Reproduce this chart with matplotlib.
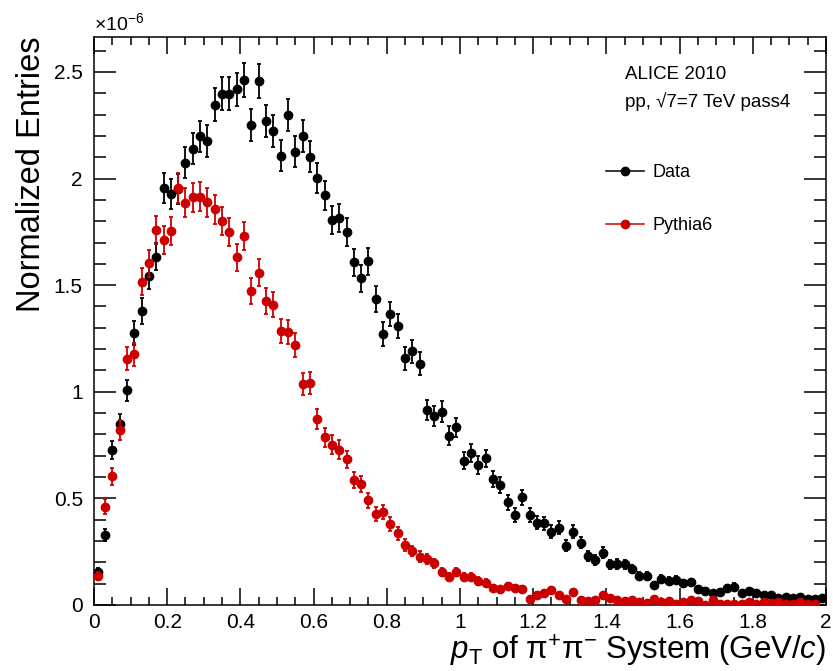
import numpy as np
import matplotlib.pyplot as plt
from matplotlib.ticker import MultipleLocator, FuncFormatter
from matplotlib.lines import Line2D

plt.rcParams['font.family'] = ['Liberation Sans', 'DejaVu Sans']
plt.rcParams['mathtext.fontset'] = 'custom'
plt.rcParams['mathtext.rm'] = 'Liberation Sans'
plt.rcParams['mathtext.it'] = 'Liberation Sans:italic'

# bin centres of the pT histogram (GeV/c), bin width 0.02
pt = np.arange(0.01, 2.0, 0.02)

# normalized entries, in units of 1e-6
data_y = [0.153, 0.328, 0.726, 0.850, 1.007, 1.274, 1.379, 1.545, 1.634, 1.957,
          1.928, 1.950, 2.075, 2.139, 2.198, 2.175, 2.347, 2.398, 2.398, 2.419,
          2.462, 2.250, 2.458, 2.272, 2.222, 2.108, 2.298, 2.126, 2.200, 2.103,
          2.004, 1.921, 1.806, 1.814, 1.750, 1.607, 1.532, 1.612, 1.435, 1.271,
          1.365, 1.309, 1.157, 1.190, 1.132, 0.915, 0.887, 0.907, 0.793, 0.833,
          0.677, 0.711, 0.657, 0.688, 0.591, 0.563, 0.482, 0.422, 0.505, 0.422,
          0.386, 0.383, 0.344, 0.363, 0.278, 0.344, 0.292, 0.231, 0.210, 0.245,
          0.191, 0.192, 0.191, 0.168, 0.137, 0.137, 0.094, 0.124, 0.114, 0.119,
          0.102, 0.106, 0.077, 0.067, 0.058, 0.061, 0.080, 0.086, 0.055, 0.066,
          0.055, 0.045, 0.045, 0.031, 0.039, 0.034, 0.038, 0.027, 0.027, 0.033]
data_err = [.020, .030, .043, .046, .050, .056, .059, .062, .064, .070,
            .069, .070, .072, .073, .074, .074, .077, .077, .077, .078,
            .078, .075, .078, .075, .075, .073, .076, .073, .074, .073,
            .071, .069, .067, .067, .066, .063, .062, .063, .060, .056,
            .058, .057, .054, .055, .053, .048, .047, .048, .045, .046,
            .041, .042, .041, .041, .038, .038, .035, .032, .036, .032,
            .031, .031, .029, .030, .026, .029, .027, .024, .023, .025,
            .022, .022, .022, .020, .019, .019, .015, .018, .017, .017,
            .016, .016, .014, .013, .012, .012, .014, .015, .012, .013,
            .012, .011, .011, .009, .010, .009, .010, .008, .008, .009]

pythia_y = [0.135, 0.461, 0.604, 0.821, 1.155, 1.176, 1.517, 1.603, 1.759, 1.712,
            1.754, 1.957, 1.887, 1.912, 1.915, 1.889, 1.857, 1.801, 1.750, 1.631,
            1.731, 1.473, 1.559, 1.426, 1.409, 1.284, 1.279, 1.220, 1.035, 1.040,
            0.872, 0.786, 0.752, 0.729, 0.683, 0.585, 0.566, 0.492, 0.428, 0.435,
            0.380, 0.336, 0.281, 0.253, 0.227, 0.216, 0.195, 0.155, 0.130, 0.155,
            0.131, 0.130, 0.113, 0.105, 0.081, 0.076, 0.089, 0.080, 0.074, 0.028,
            0.048, 0.058, 0.069, 0.047, 0.028, 0.061, 0.025, 0.020, 0.025, 0.045,
            0.031, 0.025, 0.020, 0.025, 0.013, 0.008, 0.028, 0.012, 0.019, 0.005,
            0.012, 0.023, 0.019, 0.002, 0.021, 0.005, 0.003, 0.003, 0.004, 0.012,
            0.004, 0.013, 0.008, 0.013, 0.004, 0.006, 0.012, 0.005, 0.005, np.nan]
pythia_err = [.018, .034, .039, .045, .054, .054, .062, .063, .066, .065,
              .066, .070, .069, .069, .069, .069, .068, .067, .066, .064,
              .066, .061, .062, .060, .059, .057, .057, .055, .051, .051,
              .047, .044, .043, .043, .041, .038, .038, .035, .033, .033,
              .031, .029, .027, .025, .024, .023, .022, .020, .018, .020,
              .018, .018, .017, .016, .014, .014, .015, .014, .014, .008,
              .011, .012, .013, .011, .008, .012, .008, .007, .008, .011,
              .009, .008, .007, .008, .006, .004, .008, .005, .007, .004,
              .005, .008, .007, .002, .007, .004, .003, .003, .003, .005,
              .003, .006, .004, .006, .003, .004, .005, .004, .004, np.nan]

red = '#cc0000'

fig = plt.figure(figsize=(8.33, 6.71), dpi=100)
ax = fig.add_axes([0.1128, 0.0984, 0.8788, 0.8465])

ax.errorbar(pt, data_y, yerr=data_err, fmt='o', color='black', ms=6,
            elinewidth=1.3, capsize=1.6, capthick=1.3, zorder=3)
ax.errorbar(pt, pythia_y, yerr=pythia_err, fmt='o', color=red, ms=6,
            elinewidth=1.3, capsize=1.6, capthick=1.3, zorder=4)

ax.set_xlim(0, 2)
ax.set_ylim(0, 2.664)

ax.xaxis.set_major_locator(MultipleLocator(0.2))
ax.xaxis.set_minor_locator(MultipleLocator(0.05))
ax.yaxis.set_major_locator(MultipleLocator(0.5))
ax.yaxis.set_minor_locator(MultipleLocator(0.1))
fmt = FuncFormatter(lambda v, p: '%g' % round(v, 3))
ax.xaxis.set_major_formatter(fmt)
ax.yaxis.set_major_formatter(fmt)

ax.tick_params(which='both', direction='in', top=True, right=True,
               labelsize=15, width=1.1)
ax.tick_params(axis='x', which='major', length=12, pad=6)
ax.tick_params(axis='x', which='minor', length=6)
ax.tick_params(axis='y', which='major', length=16, pad=8)
ax.tick_params(axis='y', which='minor', length=8.5)
for s in ax.spines.values():
    s.set_linewidth(1.1)

ax.set_xlabel(r'$p_{\rm T}$ of π$^{+}$π$^{-}$ System (GeV/$c$)',
              fontsize=22.5, loc='right', labelpad=0)
ax.set_ylabel('Normalized Entries', fontsize=23.5, loc='top', labelpad=5)

ax.text(0.0, 1.005, r'$\times$10$^{-6}$', transform=ax.transAxes,
        fontsize=14, ha='left', va='bottom')

ax.text(0.725, 0.926, 'ALICE 2010', transform=ax.transAxes, fontsize=13.5)
ax.text(0.725, 0.876, 'pp, √7=7 TeV pass4', transform=ax.transAxes, fontsize=13.5)

handles = [Line2D([], [], color='black', marker='o', ms=6, lw=1.1),
           Line2D([], [], color=red, marker='o', ms=6, lw=1.1)]
ax.legend(handles, ['Data', 'Pythia6'], loc='upper left',
          bbox_to_anchor=(0.677, 0.805), frameon=False, fontsize=13,
          handlelength=2.1, labelspacing=2.0, handletextpad=0.5)

fig.savefig('out.png', dpi=100)
